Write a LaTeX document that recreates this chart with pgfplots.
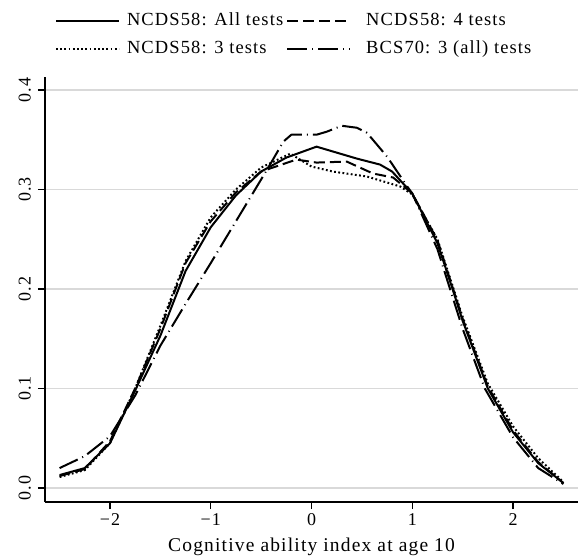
\documentclass[border=0pt]{standalone}
\usepackage{fontspec}
\setmainfont{Liberation Serif}[LetterSpace=6]
\usepackage{pgfplots}
\pgfplotsset{compat=1.18}
\begin{document}
\begin{tikzpicture}[x=1pt,y=1pt]
\path[use as bounding box] (0,0) rectangle (578,558);
\begin{axis}[
  at={(45pt,56pt)}, anchor=south west,
  scale only axis, width=533pt, height=425pt,
  xmin=-2.645, xmax=2.645, ymin=-0.0141, ymax=0.413,
  axis x line*=bottom, axis y line*=left,
  x axis line style={-, line width=1.2pt},
  y axis line style={-, line width=1.2pt},
  tick align=outside, major tick length=7pt,
  tick style={line width=1.2pt, black},
  xtick={-2,-1,0,1,2}, xticklabels={−2,−1,0,1,2},
  ytick={0,0.1,0.2,0.3,0.4}, yticklabels={0.0,0.1,0.2,0.3,0.4},
  minor tick num=0,
  ymajorgrids, grid style={line width=1.5pt, color=black!15},
  xticklabel style={font=\fontsize{18}{20}\selectfont, inner sep=0pt, anchor=north},
  xticklabel shift=4pt,
  yticklabel style={font=\fontsize{18}{20}\selectfont, inner sep=0pt, rotate=90, anchor=south},
  yticklabel shift=7pt,
  xlabel={Cognitive ability index at age 10},
  xlabel style={at={(axis description cs:0.5,0)}, anchor=base, yshift=-49pt, font=\fontsize{19.5}{22}\selectfont, inner sep=0pt},
  legend columns=2, legend cell align=left,
  legend image code/.code={\draw[#1] (0pt,0pt) -- (63pt,0pt);},
  legend style={at={(axis description cs:0.0188,1.152)}, anchor=north west,
    draw=none, fill=none, inner sep=0pt, outer sep=0pt,
    font=\fontsize{18.5}{20}\selectfont, row sep=10pt,
    nodes={inner sep=1pt, text height=12.5pt, text depth=3.5pt},
    /tikz/column 1/.style={column sep=6pt},
    /tikz/column 2/.style={column sep=2pt},
    /tikz/column 3/.style={column sep=14pt}},
]
% NCDS58: All tests
\addplot[black, solid, line width=2pt, mark=none, line join=round] coordinates {
(-2.5,0.013) (-2.25,0.020) (-2.0,0.045) (-1.75,0.098) (-1.5,0.153) (-1.25,0.218)
(-1.0,0.262) (-0.75,0.294) (-0.5,0.318) (-0.25,0.332) (0.05,0.343) (0.25,0.337)
(0.45,0.331) (0.68,0.325) (0.8,0.318) (1.0,0.296) (1.25,0.246) (1.4,0.200)
(1.5,0.168) (1.75,0.100) (2.0,0.056) (2.25,0.025) (2.5,0.005)};
\addlegendentry{NCDS58: All tests}
% NCDS58: 4 tests
\addplot[black, line width=2pt, mark=none, line join=round, dash pattern=on 11pt off 5pt] coordinates {
(-2.5,0.012) (-2.25,0.019) (-2.0,0.047) (-1.75,0.100) (-1.5,0.160) (-1.25,0.226)
(-1.0,0.268) (-0.75,0.297) (-0.5,0.318) (-0.15,0.330) (0.05,0.327) (0.35,0.328)
(0.61,0.316) (0.81,0.312) (1.0,0.296) (1.25,0.249) (1.5,0.170) (1.75,0.102)
(2.0,0.058) (2.25,0.026) (2.5,0.005)};
\addlegendentry{NCDS58: 4 tests}
% NCDS58: 3 tests
\addplot[black, line width=2pt, mark=none, line join=round, dash pattern=on 1.8pt off 2.4pt] coordinates {
(-2.5,0.011) (-2.25,0.018) (-2.0,0.045) (-1.75,0.100) (-1.5,0.163) (-1.25,0.228)
(-1.0,0.272) (-0.75,0.300) (-0.5,0.322) (-0.21,0.336) (0.0,0.323) (0.21,0.318)
(0.55,0.313) (0.88,0.303) (1.0,0.295) (1.25,0.250) (1.5,0.172) (1.75,0.105)
(2.0,0.062) (2.25,0.030) (2.5,0.006)};
\addlegendentry{NCDS58: 3 tests}
% BCS70: 3 (all) tests
\addplot[black, line width=2pt, mark=none, line join=round, dash pattern=on 20pt off 5pt on 1pt off 5pt] coordinates {
(-2.5,0.020) (-2.25,0.032) (-2.0,0.052) (-1.75,0.093) (-1.5,0.143) (-1.25,0.185)
(-1.0,0.226) (-0.75,0.268) (-0.5,0.310) (-0.4,0.327) (-0.28,0.348) (-0.2,0.355)
(0.05,0.355) (0.15,0.358) (0.3,0.364) (0.45,0.362) (0.55,0.357) (0.75,0.333)
(0.95,0.303) (1.0,0.296) (1.25,0.240) (1.5,0.160) (1.72,0.100) (2.0,0.051)
(2.25,0.020) (2.5,0.004)};
\addlegendentry{BCS70: 3 (all) tests}
\end{axis}
\end{tikzpicture}
\end{document}
